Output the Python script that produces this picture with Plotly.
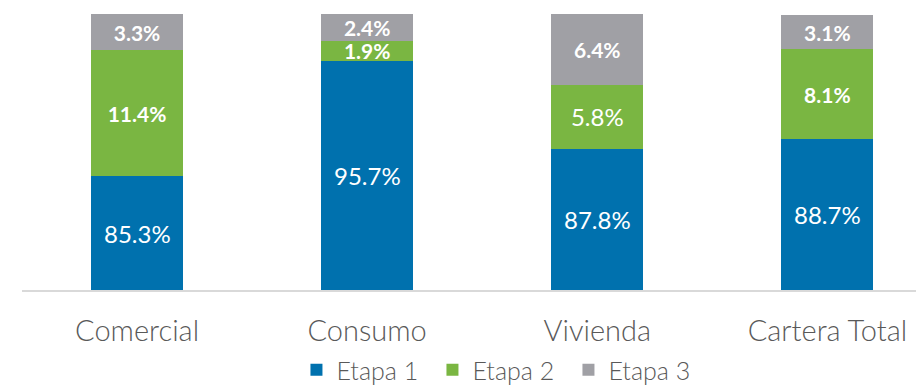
import plotly.graph_objects as go

# Loan portfolio share by stage (%)
categories = ["Comercial", "Consumo", "Vivienda", "Cartera Total"]
etapa1 = [85.3, 95.7, 87.8, 88.7]
etapa2 = [11.4, 1.9, 5.8, 8.1]
etapa3 = [3.3, 2.4, 6.4, 3.1]

series_names = ["Etapa 1", "Etapa 2", "Etapa 3"]
colors = ["#0071AE", "#7AB642", "#A0A0A5"]
# which value labels are drawn in bold
bold_flags = [
    [False, False, False, False],
    [True, True, False, True],
    [True, True, True, True],
]

FONT = "Lato, 'Open Sans', sans-serif"
Y_MIN, Y_MAX = 75, 100

fig = go.Figure()
for i, (name, vals, color, bold) in enumerate(zip(series_names, [etapa1, etapa2, etapa3], colors, bold_flags)):
    bar = dict(
        x=categories,
        y=vals,
        name=name,
        marker=dict(color=color, line=dict(width=0)),
        width=0.4,
        hoverinfo="skip",
    )
    if i > 0:
        bar.update(
            texttemplate=["<b>%{y:.1f}%</b>" if b else "%{y:.1f}%" for b in bold],
            textposition="inside",
            insidetextanchor="middle",
            constraintext="none",
            textangle=0,
            textfont=dict(family=FONT, color="white", size=[21 if b else 24 for b in bold]),
        )
    fig.add_trace(go.Bar(**bar))

# The first stage's labels sit in the middle of the visible part of each bar
for cat, v in zip(categories, etapa1):
    fig.add_annotation(
        x=cat, y=(Y_MIN + v) / 2, xref="x", yref="y",
        text=f"{v:.1f}%", showarrow=False,
        font=dict(family=FONT, color="white", size=24),
    )

fig.update_layout(
    barmode="stack",
    width=916,
    height=385,
    margin=dict(l=22, r=0, t=14, b=95, autoexpand=False),
    paper_bgcolor="white",
    plot_bgcolor="white",
    font=dict(family=FONT, color="#595959"),
    showlegend=True,
    legend=dict(
        orientation="h",
        x=0.307, xanchor="left",
        y=-0.29, yanchor="middle",
        font=dict(size=25, color="#595959", weight=300),
        entrywidth=91, entrywidthmode="pixels",
        itemclick=False,
        traceorder="normal",
    ),
)
fig.update_xaxes(
    range=[-0.5, 3.385],
    showline=True, linecolor="#D9D9D9", linewidth=2,
    showgrid=False, ticks="",
    tickfont=dict(size=29, color="#595959", weight=300),
    ticklabelstandoff=14,
    automargin=False,
    fixedrange=True,
)
fig.update_yaxes(
    range=[Y_MIN, Y_MAX],
    visible=False,
    showgrid=False,
    automargin=False,
    fixedrange=True,
)

fig.write_html("out.html")
